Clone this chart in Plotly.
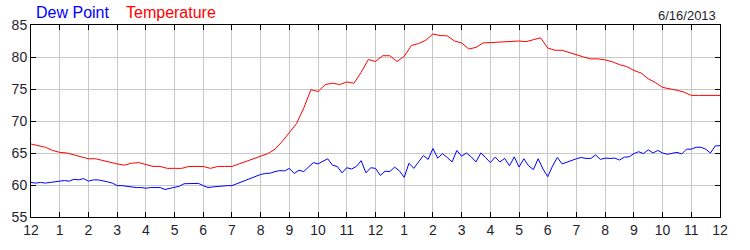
import plotly.graph_objects as go

# ---- data ----
hour_labels = ["12", "1", "2", "3", "4", "5", "6", "7", "8", "9", "10", "11",
               "12", "1", "2", "3", "4", "5", "6", "7", "8", "9", "10", "11", "12"]

# Temperature, every 15 minutes from midnight to midnight (97 values)
temperature = [
    66.4, 66.2, 65.9, 65.4,   65.1, 65.0, 64.7, 64.5,   64.1, 64.1, 63.8, 63.6,
    63.3, 63.1, 63.4, 63.5,   63.2, 62.9, 62.9, 62.6,   62.6, 62.6, 62.9, 62.9,
    62.9, 62.6, 62.9, 62.9,   62.9, 63.3, 63.7, 64.0,   64.4, 64.9, 65.6, 66.8,
    68.2, 69.6, 72.0, 74.9,   74.6, 75.7, 75.9, 75.7,   76.1, 75.9, 77.6, 79.6,
    79.3, 80.2, 80.2, 79.3,   80.1, 81.8, 82.1, 82.6,   83.6, 83.35, 83.3, 82.5,
    82.2, 81.25, 81.5, 82.2,  82.25, 82.3, 82.4, 82.4,  82.5, 82.4, 82.7, 83.0,
    81.4, 81.05, 81.05, 80.7, 80.25, 80.0, 79.7, 79.7,  79.55, 79.25, 78.8, 78.5,
    77.9, 77.5, 76.6, 76.0,   75.25, 75.05, 74.8, 74.5, 74.0, 74.0, 74.0, 73.9,
    74.0,
]

# Dew point, every 10 minutes from midnight to midnight (145 values)
dew_point = [
    60.4, 60.3, 60.4, 60.3, 60.4, 60.5,
    60.5, 60.7, 60.6, 60.9, 60.8, 61.0,
    60.6, 60.8, 60.8, 60.7, 60.5, 60.3,
    59.9, 59.9, 59.8, 59.6, 59.6, 59.6,
    59.5, 59.6, 59.6, 59.6, 59.3, 59.5,
    59.6, 59.8, 60.2, 60.25, 60.25, 60.25,
    59.9, 59.6, 59.7, 59.8, 59.9, 59.9,
    59.9, 60.2, 60.5, 60.8, 61.0, 61.3,
    61.65, 61.8, 61.85, 62.1, 62.25, 62.2,
    62.6, 61.8, 62.3, 62.1, 62.8, 63.5,
    63.3, 63.75, 64.1, 63.1, 62.9, 61.9,
    62.7, 62.5, 62.9, 63.8, 61.9, 62.7,
    62.6, 61.5, 62.15, 62.1, 62.8, 62.2,
    61.2, 63.4, 62.6, 63.6, 64.6, 64.0,
    65.7, 64.2, 64.9, 64.3, 63.6, 65.4,
    64.5, 65.0, 64.4, 63.6, 65.0, 64.3,
    63.5, 64.35, 63.6, 64.15, 63.0, 64.4,
    62.8, 64.1, 63.0, 62.4, 64.1, 62.5,
    61.3, 62.95, 64.3, 63.3, 63.6, 63.9,
    64.1, 64.3, 64.15, 64.15, 64.7, 64.0,
    64.2, 64.15, 64.2, 63.9, 64.35, 64.4,
    64.9, 65.2, 64.9, 65.5, 65.0, 65.4,
    65.0, 64.8, 65.0, 65.1, 64.85, 65.6,
    65.6, 65.9, 65.9, 65.6, 65.0, 66.1,
    66.15,
]

y_ticks = [55, 60, 65, 70, 75, 80, 85]

t_temp = [i * 0.25 for i in range(len(temperature))]
t_dew = [i / 6.0 for i in range(len(dew_point))]

FONT = "Liberation Sans, Arial, sans-serif"
TXT = "#1e1e2e"

fig = go.Figure()
fig.add_trace(go.Scatter(x=t_dew, y=dew_point, mode="lines",
                         line=dict(color="#0000ff", width=1), name="Dew Point"))
fig.add_trace(go.Scatter(x=t_temp, y=temperature, mode="lines",
                         line=dict(color="#ff0000", width=1), name="Temperature"))

axis_common = dict(showline=True, linecolor="black", linewidth=1,
                   ticks="inside", ticklen=5, tickcolor="black", tickwidth=1,
                   tickfont=dict(family=FONT, size=14, color=TXT))

fig.update_layout(
    width=750, height=250,
    margin=dict(l=30, r=30, t=25, b=25),
    paper_bgcolor="white", plot_bgcolor="white",
    showlegend=False,
    xaxis=dict(range=[0, 24], tickmode="array",
               tickvals=list(range(25)), ticktext=hour_labels,
               showgrid=True, gridcolor="#c8c8c8", gridwidth=1,
               mirror="allticks", zeroline=False, **axis_common),
    yaxis=dict(range=[55, 85], tickmode="array", tickvals=y_ticks,
               showgrid=True, gridcolor="#c8c8c8", gridwidth=1,
               mirror="allticks", zeroline=False, **axis_common),
    yaxis2=dict(range=[55, 85], tickmode="array", tickvals=y_ticks,
                overlaying="y", side="right", showgrid=False, zeroline=False,
                **axis_common),
)

fig.add_annotation(text="Dew Point", xref="paper", yref="paper",
                   x=(33 - 30) / 690, y=1 + (25 - 12) / 200,
                   xanchor="left", yanchor="middle", showarrow=False,
                   font=dict(family=FONT, size=16, color="#0000ff"))
fig.add_annotation(text="Temperature", xref="paper", yref="paper",
                   x=(123 - 30) / 690, y=1 + (25 - 12) / 200,
                   xanchor="left", yanchor="middle", showarrow=False,
                   font=dict(family=FONT, size=16, color="#ff0000"))
fig.add_annotation(text="6/16/2013", xref="paper", yref="paper",
                   x=(718 - 30) / 690, y=1 + (25 - 15) / 200,
                   xanchor="right", yanchor="middle", showarrow=False,
                   font=dict(family=FONT, size=13, color=TXT))

fig.write_html("out.html")
